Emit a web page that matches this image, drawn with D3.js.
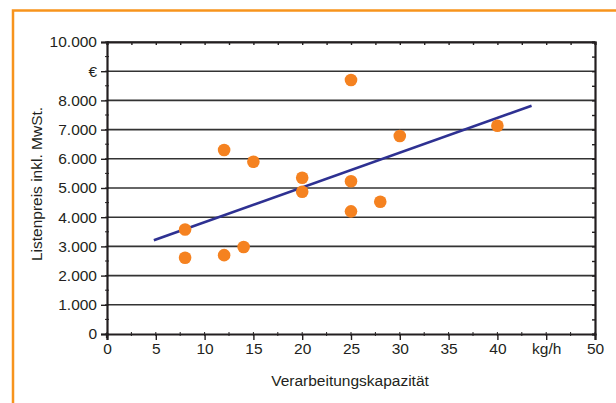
<!DOCTYPE html>
<html><head><meta charset="utf-8">
<script src="https://cdn.jsdelivr.net/npm/d3@7"></script>
<style>
html,body{margin:0;padding:0;background:#fff;}
svg text{font-family:Arial,"Liberation Sans",sans-serif;fill:#231f20;}
</style></head>
<body>
<svg id="c" width="616" height="403"></svg>
<script>
const capacity = [25, 12, 15, 20, 20, 25, 25, 28, 8, 8, 12, 14, 30, 40];
const price = [8700, 6300, 5900, 5350, 4870, 5230, 4200, 4530, 3580, 2610, 2700, 2980, 6780, 7130];
const trendX = [4.8, 43.5];
const trendY = [3210, 7820];
const xTicks = [0, 5, 10, 15, 20, 25, 30, 35, 40, 45, 50];
const xTickLabels = ["0", "5", "10", "15", "20", "25", "30", "35", "40", "kg/h", "50"];
const yTicks = [0, 1000, 2000, 3000, 4000, 5000, 6000, 7000, 8000, 9000, 10000];
const yTickLabels = ["0", "1.000", "2.000", "3.000", "4.000", "5.000", "6.000", "7.000", "8.000", "€", "10.000"];
const xTitle = "Verarbeitungskapazität";
const yTitle = "Listenpreis inkl. MwSt.";

const svg = d3.select("#c");
const L = 107, R = 595, T = 42, B = 334;
const FS = 15.5;
const x = d3.scaleLinear().domain([0, 50]).range([L, R]);
const y = d3.scaleLinear().domain([0, 10000]).range([B, T]);

// orange frame
svg.append("rect").attr("x", 13).attr("y", 10.5).attr("width", 620).attr("height", 420)
  .attr("fill", "none").attr("stroke", "#F7941D").attr("stroke-width", 2.5);

// gridlines
svg.append("g").selectAll("line").data(yTicks.slice(1)).join("line")
  .attr("x1", L).attr("x2", R).attr("y1", d => y(d)).attr("y2", d => y(d))
  .attr("stroke", "#333").attr("stroke-width", 1.6);

const minorX = d3.range(0, 50.01, 2.5);
const minorY = d3.range(0, 10000.1, 500);

// bottom axis
const gb = svg.append("g").attr("transform", `translate(0,${B})`);
gb.call(d3.axisBottom(x).tickValues(xTicks).tickFormat((d, i) => xTickLabels[i]).tickSize(6).tickPadding(3));
gb.selectAll(".tick text").attr("font-size", FS);
gb.append("g").selectAll("line").data(minorX).join("line")
  .attr("x1", d => x(d)).attr("x2", d => x(d)).attr("y1", -2).attr("y2", 2)
  .attr("stroke", "#231f20").attr("stroke-width", 1);

// top axis
const gt = svg.append("g").attr("transform", `translate(0,${T})`);
gt.call(d3.axisTop(x).tickValues(minorX).tickFormat("").tickSize(-3));

// left axis
const gl = svg.append("g").attr("transform", `translate(${L},0)`);
gl.call(d3.axisLeft(y).tickValues(yTicks).tickFormat((d, i) => yTickLabels[i]).tickSize(6).tickPadding(4));
gl.selectAll(".tick text").attr("font-size", FS);
gl.append("g").selectAll("line").data(minorY).join("line")
  .attr("y1", d => y(d)).attr("y2", d => y(d)).attr("x1", -2).attr("x2", 2)
  .attr("stroke", "#231f20").attr("stroke-width", 1);

// right axis
const gr = svg.append("g").attr("transform", `translate(${R},0)`);
gr.call(d3.axisRight(y).tickValues(minorY).tickFormat("").tickSize(-3));

[gb, gt, gl, gr].forEach(g => {
  g.select(".domain").attr("stroke", "#231f20").attr("stroke-width", 2.2);
  g.selectAll(".tick line").attr("stroke", "#231f20").attr("stroke-width", 1.4);
});
// overshoot of axes
svg.append("line").attr("x1", L).attr("x2", L).attr("y1", B).attr("y2", B + 4).attr("stroke", "#231f20").attr("stroke-width", 2.2);

// trend line
svg.append("line")
  .attr("x1", x(trendX[0])).attr("y1", y(trendY[0]))
  .attr("x2", x(trendX[1])).attr("y2", y(trendY[1]))
  .attr("stroke", "#2E3192").attr("stroke-width", 2.6);

// points
svg.append("g").selectAll("circle").data(capacity).join("circle")
  .attr("cx", d => x(d)).attr("cy", (d, i) => y(price[i])).attr("r", 6.3)
  .attr("fill", "#F58220");

// titles
svg.append("text").attr("x", (L + R) / 2 - 1).attr("y", 386).attr("text-anchor", "middle")
  .attr("font-size", FS).text(xTitle);
svg.append("text").attr("transform", `translate(42,${(T + B) / 2 - 4}) rotate(-90)`)
  .attr("text-anchor", "middle").attr("font-size", FS).text(yTitle);
</script>
</body></html>
